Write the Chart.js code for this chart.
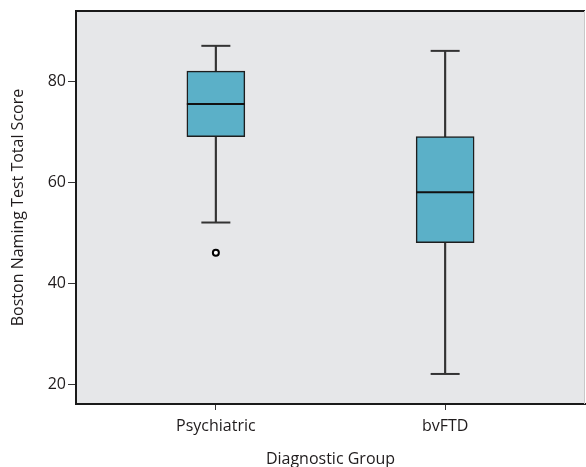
<!DOCTYPE html>
<html>
<head>
<meta charset="utf-8">
<script src="https://cdn.jsdelivr.net/npm/chart.js@4/dist/chart.umd.min.js"></script>
<style>
  html, body { margin: 0; padding: 0; background: #fff; }
  #wrap { width: 586px; height: 467px; position: relative; }
</style>
</head>
<body>
<div id="wrap"><canvas id="c"></canvas></div>
<script>
// ---- data ----
const groups    = ['Psychiatric', 'bvFTD'];
const groupPos  = [1, 2];
const whiskerLo = [52, 22];
const q1        = [69, 48];
const medians   = [75.5, 58];
const q3        = [82, 69];
const whiskerHi = [87, 86];
const outlierGroup = [0];
const outlierValue = [46];
const yTicks    = [20, 40, 60, 80];

const FONT = "'Open Sans', 'Noto Sans', sans-serif";
const TXT = '#1f1b1c';

const boxData   = groupPos.map((x, i) => ({ x, y: [q1[i], q3[i]] }));
const stemLo    = groupPos.map((x, i) => ({ x, y: [whiskerLo[i], q1[i]] }));
const stemHi    = groupPos.map((x, i) => ({ x, y: [q3[i], whiskerHi[i]] }));
const capData   = groupPos.flatMap((x, i) => [{ x, y: whiskerLo[i] }, { x, y: whiskerHi[i] }]);
const medData   = groupPos.map((x, i) => ({ x, y: medians[i] }));
const outData   = outlierGroup.map((g, i) => ({ x: groupPos[g], y: outlierValue[i] }));

const bgPlugin = {
  id: 'plotBg',
  beforeDraw(chart) {
    const { ctx, chartArea: a } = chart;
    ctx.save();
    ctx.fillStyle = '#e6e7e9';
    ctx.fillRect(a.left, a.top, a.right - a.left, a.bottom - a.top);
    ctx.restore();
  },
  afterDatasetsDraw(chart) {
    const { ctx, chartArea: a } = chart;
    ctx.save();
    ctx.strokeStyle = '#1a1a1a';
    ctx.lineWidth = 2;
    ctx.beginPath();
    ctx.moveTo(a.left, a.top);
    ctx.lineTo(a.right, a.top);
    ctx.stroke();
    ctx.strokeStyle = '#c8c8c8';
    ctx.lineWidth = 1;
    ctx.beginPath();
    ctx.moveTo(a.right - 0.5, a.top);
    ctx.lineTo(a.right - 0.5, a.bottom);
    ctx.stroke();
    ctx.restore();
  }
};

new Chart(document.getElementById('c'), {
  type: 'bar',
  data: {
    datasets: [
      { type: 'bar', data: stemLo, backgroundColor: '#333', borderWidth: 0, barThickness: 1.5, grouped: false, order: 5 },
      { type: 'bar', data: stemHi, backgroundColor: '#333', borderWidth: 0, barThickness: 1.5, grouped: false, order: 5 },
      { type: 'bar', data: boxData, backgroundColor: '#5bb0c8', borderColor: '#1e1e1e', borderWidth: 1.5, borderSkipped: false, barThickness: 58, grouped: false, order: 4 },
      { type: 'line', data: medData, showLine: false, pointStyle: 'line', pointRadius: 29, borderColor: '#111', borderWidth: 2, order: 1 },
      { type: 'line', data: capData, showLine: false, pointStyle: 'line', pointRadius: 14.5, borderColor: '#333', borderWidth: 2, order: 1 },
      { type: 'line', data: outData, showLine: false, pointStyle: 'circle', pointRadius: 3, backgroundColor: '#fff', borderColor: '#000', borderWidth: 2, order: 0 }
    ]
  },
  options: {
    responsive: true,
    maintainAspectRatio: false,
    animation: false,
    events: [],
    layout: { autoPadding: false, padding: { top: 11, right: 1, bottom: 0, left: 0 } },
    plugins: { legend: { display: false }, tooltip: { enabled: false } },
    scales: {
      x: {
        type: 'linear',
        offset: false,
        min: 0.39,
        max: 2.61,
        afterBuildTicks(scale) { scale.ticks = groupPos.map(v => ({ value: v })); },
        afterFit(scale) { scale.height = 63; scale.paddingLeft = 0; scale.paddingRight = 0; },
        ticks: {
          callback: (v) => { const i = groupPos.indexOf(v); return i >= 0 ? groups[i] : ''; },
          font: { family: FONT, size: 16 },
          color: TXT,
          padding: 7,
          maxRotation: 0
        },
        grid: { offset: false, drawOnChartArea: false, drawTicks: true, tickLength: 6, color: '#333', lineWidth: 1 },
        border: { display: true, color: '#1a1a1a', width: 2 },
        title: { display: true, text: 'Diagnostic Group', font: { family: FONT, size: 16 }, color: TXT, padding: { top: 0, bottom: -2 } }
      },
      y: {
        type: 'linear',
        min: 16.05,
        max: 93.9,
        afterBuildTicks(scale) { scale.ticks = yTicks.map(v => ({ value: v })); },
        afterFit(scale) { scale.width = 76; scale.paddingTop = 0; scale.paddingBottom = 0; },
        ticks: { font: { family: FONT, size: 16 }, color: TXT, padding: 2 },
        grid: { drawOnChartArea: false, drawTicks: true, tickLength: 8, color: '#333', lineWidth: 1 },
        border: { display: true, color: '#1a1a1a', width: 2 },
        title: { display: true, text: 'Boston Naming Test Total Score', font: { family: FONT, size: 16 }, color: TXT, padding: { top: 9, bottom: 0 } }
      }
    }
  },
  plugins: [bgPlugin]
});
</script>
</body>
</html>
